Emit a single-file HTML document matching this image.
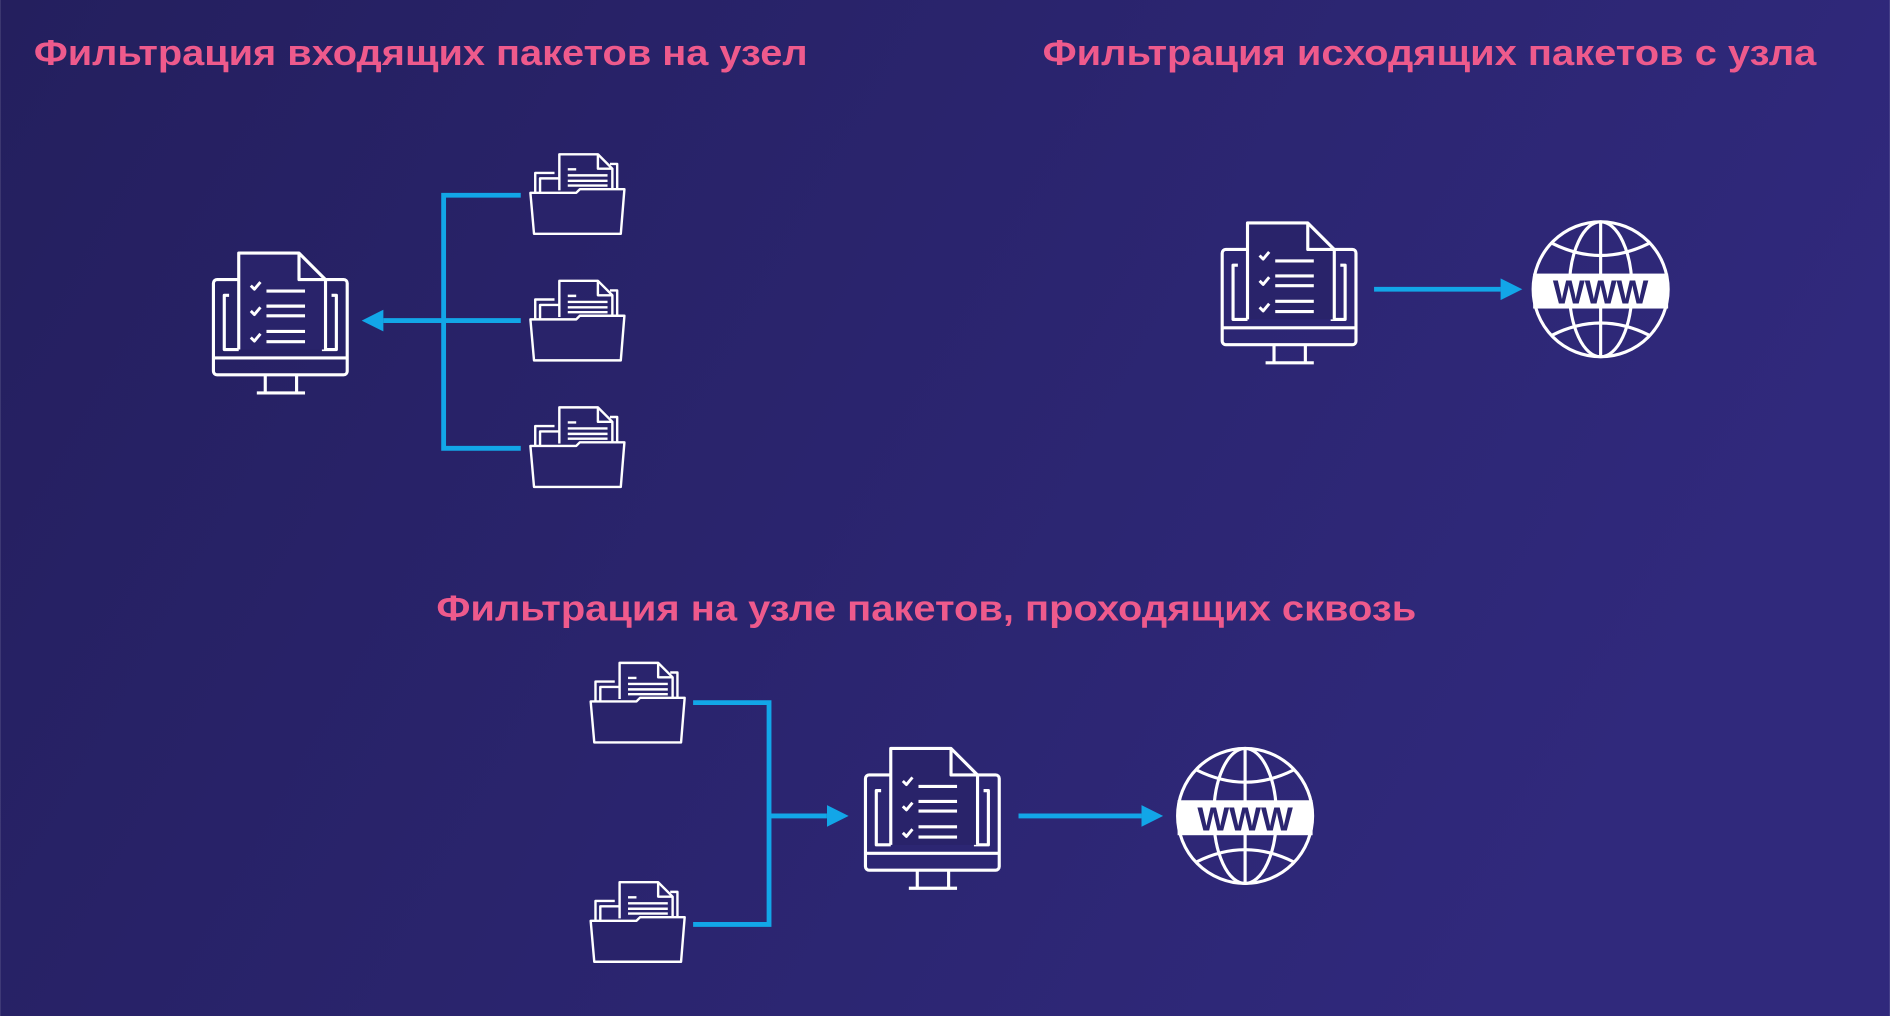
<!DOCTYPE html>
<html><head><meta charset="utf-8"><style>html,body{margin:0;padding:0;width:1890px;height:1016px;overflow:hidden}svg{display:block}</style></head>
<body>
<svg width="1890" height="1016" viewBox="0 0 1568 843" xmlns="http://www.w3.org/2000/svg">
<defs>
<linearGradient id="bg" x1="0" y1="0" x2="1" y2="0.3">
<stop offset="0" stop-color="#241f5e"/><stop offset="1" stop-color="#30297c"/></linearGradient>
<g id="mon" fill="none" stroke="#fff" stroke-width="2.6" stroke-linejoin="round">
<rect x="0" y="0" width="111" height="79" rx="3"/>
<line x1="0" y1="65" x2="111" y2="65"/>
<path d="M43,79 V93 M69,79 V93 M36,94 H76"/>
<path d="M13,13 H9 V58 H21 M98,13 H102 V58 H90"/>
<path d="M21,58 V-22 H71 L93,0 V58" fill="#29236a"/>
<path d="M71,-22 V0 H93"/>
<path d="M44,9.5 H76 M44,22 H76 M44,30 H76 M44,43 H76 M44,51.5 H76"/>
<path d="M31,5 l3,3 l5,-6 M31,26 l3,3 l5,-6 M31,48 l3,3 l5,-6" stroke-width="2.4"/>
</g>
<g id="fold" fill="none" stroke="#fff" stroke-width="2" stroke-linejoin="round">
<path d="M4,32 V15.5 H20 M8,32 V20 H24"/>
<path d="M66,8 H72 V32"/>
<path d="M24,30 V0 H56 L68,12 V30"/>
<path d="M56,0 V12 H68"/>
<path d="M31,12.5 H38 M31,17.5 H64 M31,22 H64 M31,26 H64"/>
<path d="M0,32 H38 L41,29 H78 L75,66 H3 Z" fill="#29236a"/>
</g>
<g id="globe" fill="none" stroke="#fff" stroke-width="2.6">
<circle cx="0" cy="0" r="56"/>
<ellipse cx="0" cy="0" rx="26" ry="56"/>
<line x1="0" y1="-56" x2="0" y2="56"/>
<path d="M-40,-38 Q0,-18 40,-38 M-40,38 Q0,18 40,38"/>
<rect x="-56" y="-13" width="112" height="29" fill="#fff" stroke="none"/>
<text x="0" y="12" text-anchor="middle" fill="#2b2570" stroke="none" font-family="Liberation Sans, sans-serif" font-weight="bold" font-size="28">WWW</text>
</g>
<marker id="ar" viewBox="0 0 10 10" refX="0" refY="5" markerWidth="4.5" markerHeight="4.5" orient="auto"><path d="M0,0 L10,5 L0,10 Z" fill="#12a6e8"/></marker>
</defs>
<rect width="1568" height="843" fill="url(#bg)"/>
<g font-family="Liberation Sans, sans-serif" font-weight="bold" font-size="30" fill="#ee5a8c">
<text x="28" y="54" textLength="642" lengthAdjust="spacingAndGlyphs">Фильтрация входящих пакетов на узел</text>
<text x="865" y="54" textLength="642" lengthAdjust="spacingAndGlyphs">Фильтрация исходящих пакетов с узла</text>
<text x="362" y="515" textLength="813" lengthAdjust="spacingAndGlyphs">Фильтрация на узле пакетов, проходящих сквозь</text>
</g>
<g fill="none" stroke="#12a6e8" stroke-width="4">
<path d="M432,162 H368 V372 H432 M432,266 H368"/>
<path d="M368,266 H318" marker-end="url(#ar)"/>
<path d="M1140,240 H1245" marker-end="url(#ar)"/>
<path d="M575,583 H638 V767 H575 M638,677 H686" marker-end="url(#ar)"/>
<path d="M845,677 H947" marker-end="url(#ar)"/>
</g>
<use href="#mon" x="177" y="232"/>
<use href="#mon" x="1014" y="207"/>
<use href="#mon" x="718" y="643"/>
<use href="#fold" x="440" y="128"/>
<use href="#fold" x="440" y="233"/>
<use href="#fold" x="440" y="338"/>
<use href="#fold" x="490" y="550"/>
<use href="#fold" x="490" y="732"/>
<use href="#globe" x="1328" y="240"/>
<use href="#globe" x="1033" y="677"/>
</svg>
</body></html>
